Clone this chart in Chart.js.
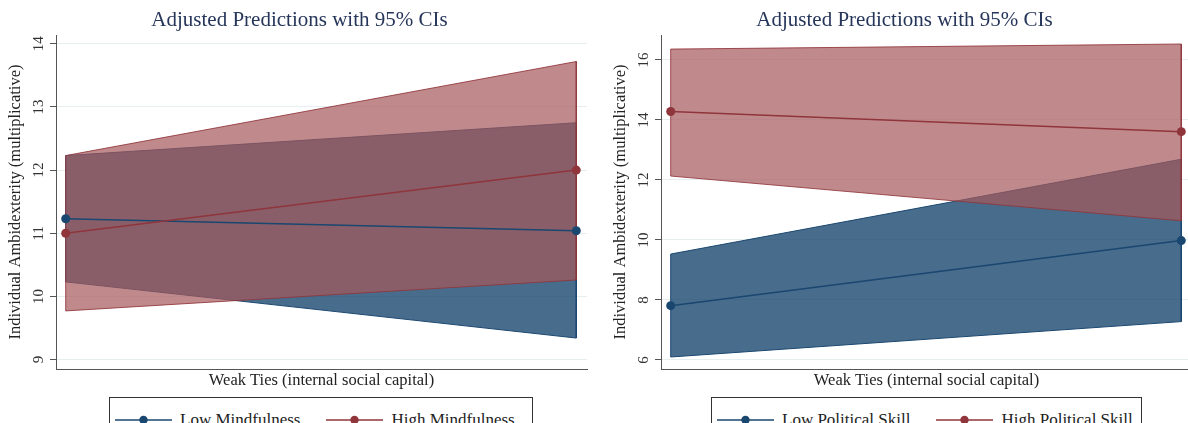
<!DOCTYPE html>
<html>
<head>
<meta charset="utf-8">
<script src="https://cdn.jsdelivr.net/npm/chart.js@4/dist/chart.umd.min.js"></script>
<style>
  html, body { margin: 0; padding: 0; background: #fff; overflow: hidden; width: 1188px; height: 423px; }
  .plot { position: absolute; top: 0; }
  .legend {
    position: absolute; top: 397px; height: 46px; box-sizing: border-box;
    border: 1px solid #333; display: flex; align-items: center; padding-left: 5px;
    font-family: "Liberation Serif", serif; font-size: 17px; color: #222;
  }
  .legend svg { flex: none; }
  .legend span { margin-left: 8px; white-space: nowrap; }
  .legend span.first { margin-right: 26px; }
</style>
</head>
<body>
<div class="plot" style="left:0px"><canvas id="left" width="596" height="397"></canvas></div>
<div class="plot" style="left:605px"><canvas id="right" width="596" height="397"></canvas></div>
<div class="legend" id="legLeft" style="left:109px; width:424px"></div>
<div class="legend" id="legRight" style="left:711px; width:431px"></div>

<script>
// x positions: low / high weak ties
const xVals = [0, 1];

// left panel: mindfulness
const mindLabels = ["Low Mindfulness", "High Mindfulness"];
const mindLowEst = [11.23, 11.04];
const mindLowUpper = [12.23, 12.75];
const mindLowLower = [10.23, 9.34];
const mindHighEst = [11.0, 12.0];
const mindHighUpper = [12.23, 13.72];
const mindHighLower = [9.77, 10.26];
const mindTicks = [9, 10, 11, 12, 13, 14];

// right panel: political skill
const polLabels = ["Low Political Skill", "High Political Skill"];
const polLowEst = [7.81, 9.98];
const polLowUpper = [9.53, 12.69];
const polLowLower = [6.1, 7.28];
const polHighEst = [14.28, 13.61];
const polHighUpper = [16.36, 16.53];
const polHighLower = [12.13, 10.64];
const polTicks = [6, 8, 10, 12, 14, 16];

const titleText = "Adjusted Predictions with 95% CIs";
const xTitle = "Weak Ties (internal social capital)";
const yTitle = "Individual Ambidexterity (multiplicative)";

const NAVY = "#1a476f";
const MAROON = "#90353b";
const SERIF = "'Liberation Serif', serif";

function band(upper, lower) {
  // closed polygon: upper edge left->right, lower edge right->left
  const pts = [];
  for (let i = 0; i < xVals.length; i++) pts.push({ x: xVals[i], y: upper[i] });
  for (let i = xVals.length - 1; i >= 0; i--) pts.push({ x: xVals[i], y: lower[i] });
  pts.push({ x: xVals[0], y: upper[0] });
  return pts;
}

function line(vals) {
  return vals.map((v, i) => ({ x: xVals[i], y: v }));
}

function makeChart(id, g, yMin, yMax, ticks) {
  const ctx = document.getElementById(id).getContext("2d");
  return new Chart(ctx, {
    type: "line",
    data: {
      datasets: [
        {
          label: "lowCI", data: band(g.lowUp, g.lowLo), fill: "shape",
          backgroundColor: "rgba(26,71,111,0.8)", borderColor: NAVY, borderWidth: 1,
          pointRadius: 0, tension: 0, order: 4
        },
        {
          label: "highCI", data: band(g.highUp, g.highLo), fill: "shape",
          backgroundColor: "rgba(165,88,91,0.7)", borderColor: "rgba(144,53,59,0.85)", borderWidth: 1,
          pointRadius: 0, tension: 0, order: 3
        },
        {
          label: g.labels[0], data: line(g.lowEst), fill: false,
          borderColor: NAVY, borderWidth: 1.5, backgroundColor: NAVY,
          pointRadius: 4.5, pointBackgroundColor: NAVY, pointBorderWidth: 0, order: 2
        },
        {
          label: g.labels[1], data: line(g.highEst), fill: false,
          borderColor: MAROON, borderWidth: 1.5, backgroundColor: MAROON,
          pointRadius: 4.5, pointBackgroundColor: MAROON, pointBorderWidth: 0, order: 1
        }
      ]
    },
    options: {
      responsive: false,
      animation: false,
      events: [],
      layout: { padding: { left: 12, right: 9, top: 0, bottom: 0 } },
      plugins: {
        legend: { display: false },
        tooltip: { enabled: false },
        filler: { drawTime: "beforeDatasetDraw" },
        title: {
          display: true, text: titleText, color: "#26365a",
          font: { family: SERIF, size: 21, weight: "normal" },
          padding: { top: 7.4, bottom: 2.4 }
        }
      },
      scales: {
        x: {
          type: "linear", min: -0.019, max: 1.021,
          ticks: { display: false },
          grid: { display: false, drawTicks: false },
          border: { display: true, color: "#555", width: 1 },
          title: {
            display: true, text: xTitle, color: "#222",
            font: { family: SERIF, size: 16.5 }, padding: { top: 0, bottom: 6 }
          },
          afterFit: (s) => { s.height = 28; }
        },
        y: {
          type: "linear", min: yMin, max: yMax,
          afterBuildTicks: (s) => { s.ticks = ticks.map((v) => ({ value: v })); },
          ticks: {
            minRotation: 90, maxRotation: 90, crossAlign: "center", padding: 3,
            color: "#333", font: { family: SERIF, size: 15 }
          },
          grid: { color: "#e6eef0", tickColor: "#555", tickLength: 6 },
          border: { display: true, color: "#555", width: 1 },
          title: {
            display: true, text: yTitle, color: "#222",
            font: { family: SERIF, size: 16.5 }, padding: { top: -6, bottom: 0 }
          },
          afterFit: (s) => { s.width = 44; }
        }
      }
    }
  });
}

function makeLegend(id, labels) {
  const el = document.getElementById(id);
  const colors = [NAVY, MAROON];
  labels.forEach((lab, i) => {
    const ns = "http://www.w3.org/2000/svg";
    const svg = document.createElementNS(ns, "svg");
    svg.setAttribute("width", "57");
    svg.setAttribute("height", "10");
    const ln = document.createElementNS(ns, "line");
    ln.setAttribute("x1", "0"); ln.setAttribute("x2", "57");
    ln.setAttribute("y1", "5"); ln.setAttribute("y2", "5");
    ln.setAttribute("stroke", colors[i]); ln.setAttribute("stroke-width", "1.5");
    const c = document.createElementNS(ns, "circle");
    c.setAttribute("cx", "28.5"); c.setAttribute("cy", "5"); c.setAttribute("r", "4.2");
    c.setAttribute("fill", colors[i]);
    svg.appendChild(ln); svg.appendChild(c);
    const sp = document.createElement("span");
    sp.textContent = lab;
    if (i === 0) sp.className = "first";
    el.appendChild(svg);
    el.appendChild(sp);
  });
}

makeChart("left", {
  labels: mindLabels,
  lowEst: mindLowEst, lowUp: mindLowUpper, lowLo: mindLowLower,
  highEst: mindHighEst, highUp: mindHighUpper, highLo: mindHighLower
}, 8.85, 14.14, mindTicks);

makeChart("right", {
  labels: polLabels,
  lowEst: polLowEst, lowUp: polLowUpper, lowLo: polLowLower,
  highEst: polHighEst, highUp: polHighUpper, highLo: polHighLower
}, 5.7, 16.83, polTicks);

makeLegend("legLeft", mindLabels);
makeLegend("legRight", polLabels);
</script>
</body>
</html>
